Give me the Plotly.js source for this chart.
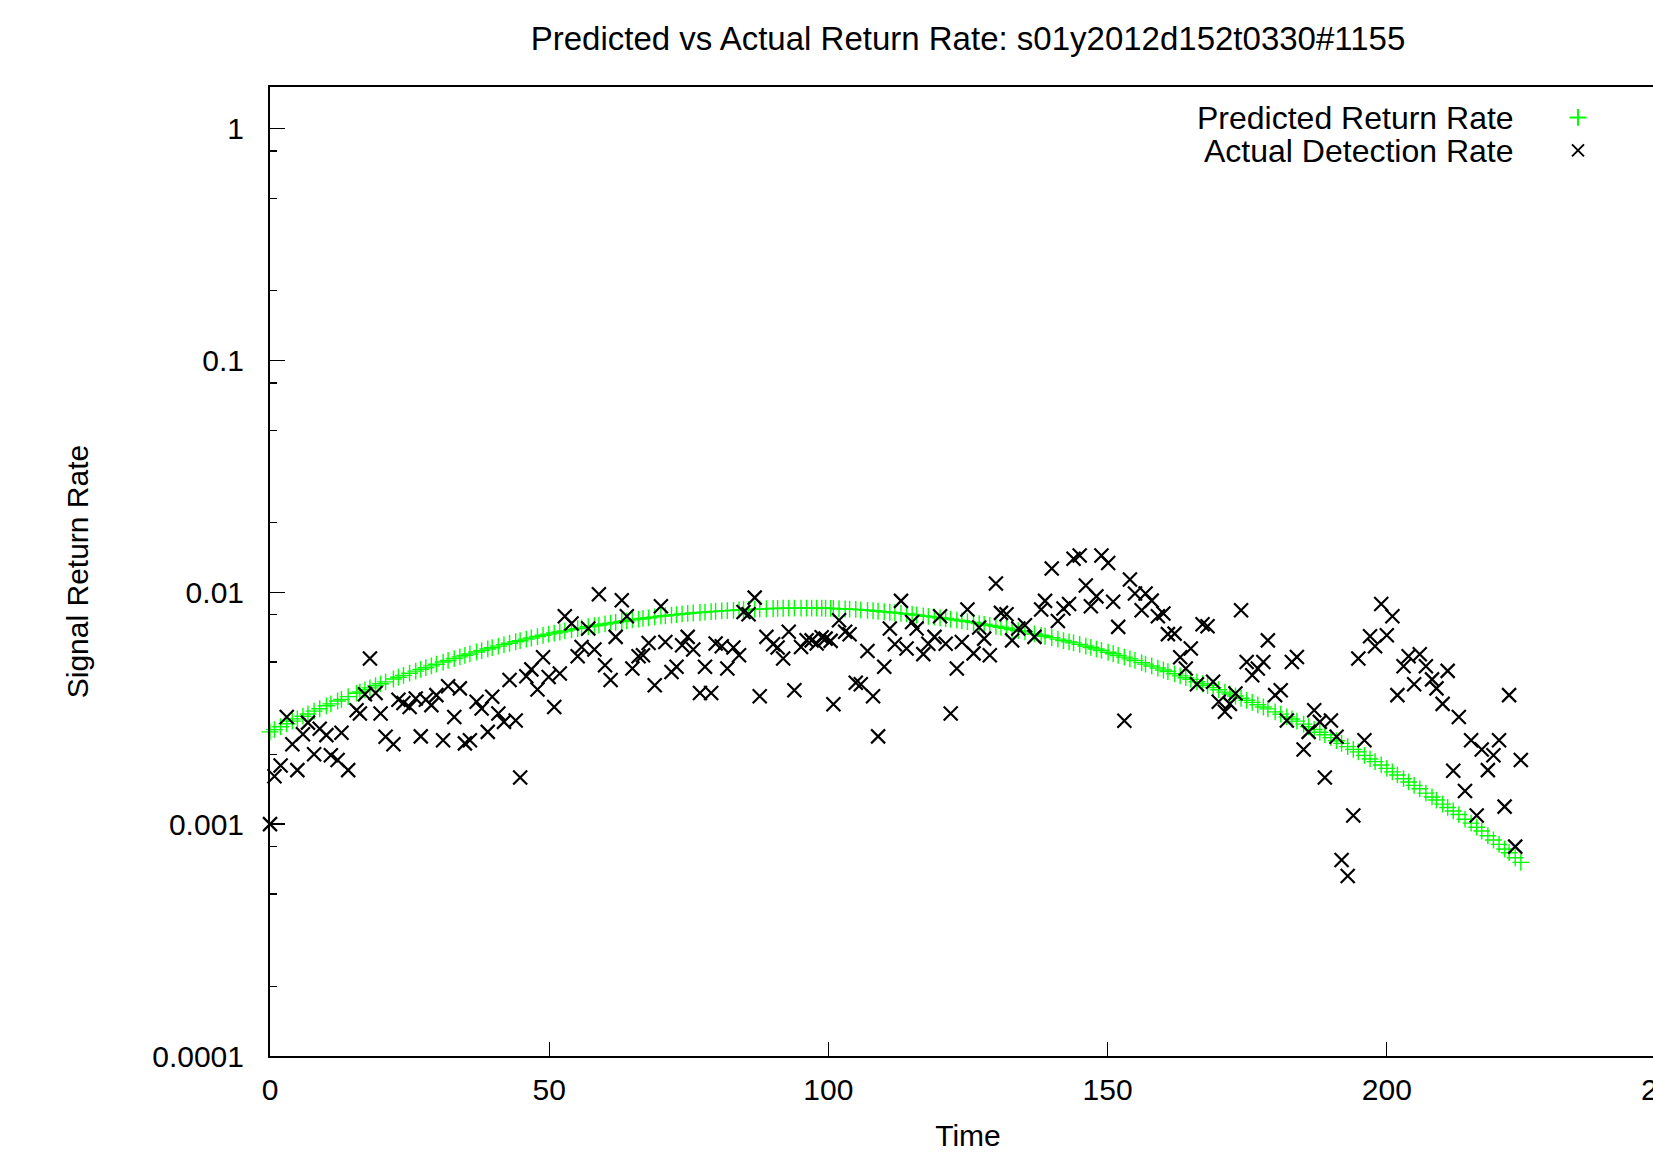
<!DOCTYPE html>
<html>
<head>
<meta charset="utf-8">
<script src="https://cdn.plot.ly/plotly-3.0.1.min.js"></script>
<style>
html, body { margin: 0; padding: 0; overflow: hidden; background: #fff; }
#chart { width: 1700px; height: 1152px; }
</style>
</head>
<body>
<div id="chart"></div>
<script>
const times = [
  0, 0.8, 1.9, 3.0, 4.0, 4.9, 5.9, 6.8, 7.9, 8.9, 10.1, 10.9, 12.1, 12.8, 14.0, 15.5, 16.1, 17.0, 17.9, 18.9,
  19.8, 20.7, 22.1, 23.0, 23.9, 25.0, 26.1, 27.0, 27.9, 28.9, 29.8, 31.0, 31.9, 33.0, 34.0, 34.9, 35.8, 37.0,
  37.9, 39.0, 39.8, 40.9, 41.9, 42.9, 44.0, 44.8,
  45.9, 46.8, 47.9, 48.9, 49.9, 50.9, 51.9, 52.8, 54.0, 55.1, 55.8, 57.0, 58.1, 58.9, 60.0, 61.0, 61.9, 63.0,
  63.9, 64.9, 66.0, 66.8, 67.8, 68.9, 70.0, 70.8, 71.9, 72.8, 73.8, 74.8, 75.8, 77.0, 77.9, 79.0, 79.8, 80.9,
  81.9, 83.0, 84.0, 84.8, 85.7, 86.8, 87.7, 88.9,
  90.1, 90.9, 91.9, 92.9, 93.9, 95.1, 96.1, 97.0, 97.9, 98.8, 99.5, 100.4, 100.9, 101.9, 103.0, 103.8, 104.9,
  105.8, 107.0, 108.0, 108.9, 110.0, 111.0, 111.9, 113.0, 114.0, 115.0, 115.8, 117.0, 117.9, 119.0, 120.0,
  121.0, 121.9, 123.0, 123.9, 124.9, 126.0, 127.0, 127.9, 128.9, 130.0, 130.9, 131.9, 132.9, 134.0,
  135.2, 136.9, 138.1, 138.8, 140.0, 141.1, 142.1, 143.1, 143.9, 145.0, 146.1, 147.0, 148.0, 148.9, 150.1,
  151.0, 151.9, 153.0, 154.0, 154.9, 156.1, 156.8, 157.9, 159.0, 160.0, 160.8, 162.0, 163.0, 164.0, 164.9,
  166.0, 167.0, 167.9, 168.9, 169.9, 171.0, 171.9, 172.9, 173.9, 174.9, 175.9, 176.9, 177.9, 178.7,
  180.0, 181.0, 182.1, 183.0, 183.9, 185.1, 186.0, 187.0, 188.0, 188.9, 190.0, 191.0, 191.9, 193.0, 194.0,
  194.9, 196.0, 197.0, 197.9, 199.0, 200.0, 201.0, 201.9, 203.0, 203.9, 204.9, 205.9, 207.0, 208.1, 208.9,
  210.0, 210.9, 211.9, 212.9, 214.0, 215.1, 216.1, 217.0, 218.1, 219.1, 220.1, 221.1, 221.9, 223.0, 224.0
];

// Predicted Return Rate (green +)
const predicted = [
  0.00250, 0.002555, 0.00263, 0.00271, 0.00278, 0.002845, 0.00292, 0.002986, 0.00307, 0.003145, 0.003238,
  0.0033, 0.003396, 0.00345, 0.003548, 0.00367, 0.00372, 0.003795, 0.00387, 0.003953, 0.004028, 0.004106,
  0.004225, 0.004302, 0.00438, 0.004475, 0.004571, 0.004649, 0.004728, 0.004815, 0.004895, 0.0050, 0.005079,
  0.005176, 0.005264, 0.005342, 0.00542, 0.005525, 0.005601, 0.005696, 0.005765, 0.005859, 0.005943,
  0.006026, 0.006117, 0.006182,
  0.00628, 0.00635, 0.00644, 0.00652, 0.0066, 0.00667, 0.00674, 0.00681, 0.00689, 0.00697, 0.00702, 0.0071,
  0.00717, 0.00722, 0.0073, 0.00736, 0.00741, 0.00748, 0.00753, 0.0076, 0.00766, 0.00771, 0.00776, 0.00783,
  0.00789, 0.00792, 0.00797, 0.00801, 0.00806, 0.0081, 0.00814, 0.00818, 0.00821, 0.00825, 0.00827, 0.00831,
  0.00833, 0.00836, 0.00839, 0.00841, 0.00843, 0.00845, 0.00847, 0.00849,
  0.00851, 0.00852, 0.00853, 0.00854, 0.00854, 0.00855, 0.00855, 0.00854, 0.00854, 0.00854, 0.00853, 0.00852,
  0.00851, 0.00849, 0.00847, 0.00846, 0.00844, 0.0084, 0.00836, 0.00832, 0.00828, 0.00824, 0.0082, 0.00816,
  0.00811, 0.00806, 0.00802, 0.00798, 0.00791, 0.00787, 0.00781, 0.00776, 0.0077, 0.00765, 0.00758, 0.00753,
  0.00747, 0.0074, 0.00733, 0.00727, 0.0072, 0.00713, 0.00706, 0.00699, 0.00691, 0.00683,
  0.00675, 0.00661, 0.00652, 0.00646, 0.00637, 0.00628, 0.00619, 0.00611, 0.00605, 0.00596, 0.00586, 0.00578,
  0.00569, 0.00561, 0.00551, 0.00543, 0.00534, 0.00525, 0.00516, 0.00508, 0.00497, 0.0049, 0.00481, 0.00471,
  0.00462, 0.00455, 0.00445, 0.00436, 0.00428, 0.00421, 0.00411, 0.00403, 0.00396, 0.00388, 0.0038, 0.00371,
  0.00364, 0.00357, 0.00349, 0.00342, 0.00335, 0.00327, 0.0032, 0.00314,
  0.00305, 0.00298, 0.0029, 0.00284, 0.00278, 0.0027, 0.00263, 0.00256, 0.00249, 0.00243, 0.00236, 0.00229,
  0.00223, 0.00216, 0.0021, 0.00205, 0.00198, 0.00191, 0.00186, 0.0018, 0.00174, 0.00168, 0.00163, 0.00157,
  0.00152, 0.00147, 0.00142, 0.00136, 0.00131, 0.00127, 0.00122, 0.00118, 0.00114, 0.0011, 0.00105, 0.00101,
  0.00097, 0.000934, 0.000891, 0.000854, 0.000818, 0.000781, 0.000753, 0.000716, 0.000684
];

// Actual Detection Rate (black x)
const actual = [
  0.001, 0.00161, 0.00179, 0.0029, 0.00221, 0.00171, 0.00244, 0.00274, 0.0020, 0.00258, 0.00242, 0.00198,
  0.00189, 0.00248, 0.00171, 0.0031, 0.003, 0.00363, 0.00518, 0.00368, 0.003, 0.00238, 0.00221, 0.00344,
  0.00333, 0.0032, 0.00348, 0.00239, 0.00344, 0.00326, 0.0036, 0.0023, 0.00393, 0.0029, 0.00385, 0.00223,
  0.0023, 0.00337, 0.00315, 0.0025, 0.00354, 0.003, 0.00276, 0.00418, 0.0028, 0.00159,
  0.00434, 0.00465, 0.00381, 0.00524, 0.00431, 0.0032, 0.00446, 0.00788, 0.00733, 0.0053, 0.00581, 0.00698,
  0.00566, 0.0098, 0.00484, 0.00418, 0.00642, 0.00924, 0.00788, 0.00469, 0.0053, 0.00535, 0.00604, 0.00397,
  0.0087, 0.0061, 0.00453, 0.00477, 0.00591, 0.00642, 0.00566, 0.00368, 0.00477, 0.00368, 0.00601, 0.00585,
  0.00469, 0.00578, 0.00535, 0.00822, 0.00804, 0.00948, 0.00356, 0.00642,
  0.00597, 0.00578, 0.00518, 0.00675, 0.00378, 0.00581, 0.00621, 0.0062, 0.00601, 0.0064, 0.00631, 0.00617,
  0.00329, 0.00757, 0.00675, 0.00659, 0.00407, 0.00401, 0.00558, 0.00356, 0.00239, 0.00477, 0.00698, 0.00597,
  0.00918, 0.00572, 0.00744, 0.00698, 0.00541, 0.006, 0.00642, 0.00788, 0.006, 0.003, 0.00469, 0.0061,
  0.00842, 0.00545, 0.00705, 0.00631, 0.00535, 0.0109, 0.00815, 0.00804, 0.0062, 0.00698,
  0.00721, 0.00642, 0.00842, 0.00918, 0.01265, 0.00752, 0.00851, 0.0089, 0.01396, 0.0144, 0.0107, 0.0087,
  0.0096, 0.0144, 0.01337, 0.0091, 0.00709, 0.00279, 0.01135, 0.00987, 0.00836, 0.00987, 0.0092, 0.00788,
  0.0081, 0.0066, 0.00663, 0.00524, 0.00469, 0.00572, 0.00401, 0.00728, 0.00714, 0.00411, 0.00337, 0.00305,
  0.0033, 0.00366, 0.00836, 0.005, 0.00439, 0.00469, 0.005, 0.0062,
  0.0036, 0.00378, 0.0028, 0.005, 0.00526, 0.0021, 0.0025, 0.0031, 0.00276, 0.00159, 0.0028, 0.00238, 0.0007,
  0.000597, 0.00109, 0.00518, 0.0023, 0.00646, 0.00585, 0.0089, 0.00653, 0.00788, 0.0036, 0.0048, 0.0053,
  0.00401, 0.0054, 0.0048, 0.00421, 0.00385, 0.0033, 0.00458, 0.0017, 0.0029, 0.00139, 0.0023, 0.00109,
  0.0021, 0.00171, 0.00198, 0.0023, 0.00119, 0.0036, 0.0008, 0.00189
];

// Axis ticks
const xTickVals = [0, 50, 100, 150, 200, 250];
const xTickText = ['0', '50', '100', '150', '200', '250'];
const yTickVals = [0.0001, 0.001, 0.01, 0.1, 1];
const yTickText = ['0.0001', '0.001', '0.01', '0.1', '1'];
const yMinorVals = [0.0002, 0.0005, 0.0008, 0.002, 0.005, 0.008, 0.02, 0.05, 0.08, 0.2, 0.5, 0.8];

const seriesNames = ['Predicted Return Rate', 'Actual Detection Rate'];

const FONT = 'Liberation Sans, Arial, Helvetica, sans-serif';

const traces = [
  {
    x: times, y: predicted, type: 'scatter', mode: 'markers', name: ' ', cliponaxis: false,
    marker: { symbol: 'cross-thin', size: 12, color: '#00ff00', line: { width: 1.4, color: '#00ff00' } },
    hoverinfo: 'x+y'
  },
  {
    x: times, y: actual, type: 'scatter', mode: 'markers', name: ' ', cliponaxis: false,
    marker: { symbol: 'x-thin', size: 14, color: '#000000', line: { width: 2.2, color: '#000000' } },
    hoverinfo: 'x+y'
  }
];

const W = 1700, H = 1152;
const ML = 270, MR = 34, MT = 87, MB = 96;
const plotW = W - ML - MR, plotH = H - MT - MB;

const layout = {
  width: W, height: H,
  margin: { l: ML, r: MR, t: MT, b: MB, pad: 0 },
  paper_bgcolor: '#ffffff', plot_bgcolor: '#ffffff',
  font: { family: FONT, size: 30, color: '#000000' },
  title: {
    text: 'Predicted vs Actual Return Rate: s01y2012d152t0330#1155',
    font: { family: FONT, size: 33, color: '#000000' },
    x: 0.5, xref: 'paper', xanchor: 'center',
    y: 1 - 38 / H, yref: 'container', yanchor: 'middle'
  },
  xaxis: {
    range: [0, 250], type: 'linear',
    tickmode: 'array', tickvals: xTickVals, ticktext: xTickText,
    ticks: 'inside', ticklen: 14, tickwidth: 1.3, tickcolor: '#000',
    showline: true, linecolor: '#000', linewidth: 2, mirror: true,
    showgrid: false, zeroline: false,
    tickfont: { family: FONT, size: 30, color: '#000' },
    ticklabelstandoff: 6,
    title: { text: 'Time', font: { family: FONT, size: 30, color: '#000' }, standoff: 33 },
    automargin: false
  },
  yaxis: {
    type: 'log', range: [-4, 0.179],
    tickmode: 'array', tickvals: yTickVals, ticktext: yTickText,
    ticks: 'inside', ticklen: 15, tickwidth: 1.3, tickcolor: '#000',
    minor: { tickmode: 'array', tickvals: yMinorVals, ticks: 'inside', ticklen: 7, tickwidth: 1.3, tickcolor: '#000', showgrid: false },
    showline: true, linecolor: '#000', linewidth: 2, mirror: true,
    showgrid: false, zeroline: false,
    tickfont: { family: FONT, size: 30, color: '#000' },
    ticklabelstandoff: 18,
    title: { text: 'Signal Return Rate', font: { family: FONT, size: 30, color: '#000' }, standoff: 55 },
    automargin: false
  },
  showlegend: true,
  legend: {
    x: (1558 - ML) / plotW, xanchor: 'left',
    y: (H - MB - 96) / plotH, yanchor: 'top',
    bgcolor: 'rgba(0,0,0,0)', borderwidth: 0,
    font: { family: FONT, size: 23, color: '#000' },
    itemsizing: 'constant',
    tracegroupgap: 0
  },
  annotations: [
    { text: seriesNames[0], xref: 'paper', yref: 'paper', x: (1516 - ML) / plotW, y: (H - MB - 118) / plotH,
      xanchor: 'right', yanchor: 'middle', showarrow: false, font: { family: FONT, size: 32, color: '#000' } },
    { text: seriesNames[1], xref: 'paper', yref: 'paper', x: (1516 - ML) / plotW, y: (H - MB - 151) / plotH,
      xanchor: 'right', yanchor: 'middle', showarrow: false, font: { family: FONT, size: 32, color: '#000' } }
  ]
};

Plotly.newPlot('chart', traces, layout, { displayModeBar: false, responsive: false, staticPlot: true });
</script>
</body>
</html>
